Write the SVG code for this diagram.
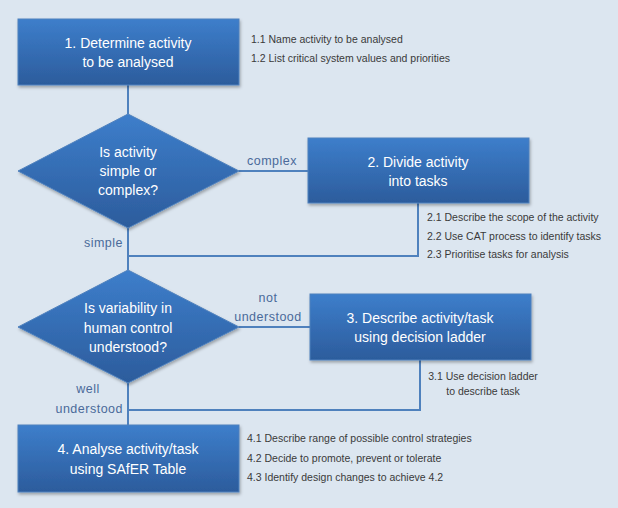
<svg xmlns="http://www.w3.org/2000/svg" width="618" height="508" viewBox="0 0 618 508">
<defs>
<linearGradient id="g" x1="0" y1="0" x2="0" y2="1">
<stop offset="0" stop-color="#3d7ecb"/>
<stop offset="1" stop-color="#2c5c9c"/>
</linearGradient>
<filter id="sh" x="-10%" y="-10%" width="130%" height="140%">
<feDropShadow dx="1" dy="2" stdDeviation="1.5" flood-color="#000" flood-opacity="0.3"/>
</filter>
</defs>
<style>
.shape{fill:url(#g);stroke:#4f81bd;stroke-width:1;filter:url(#sh)}
.t{font-family:"Liberation Sans",Arial,sans-serif;font-size:14px;fill:#fff;text-anchor:middle}
.d{font-family:"Liberation Sans",Arial,sans-serif;font-size:10.5px;fill:#3a3a3a}
.l{font-family:"Liberation Sans",Arial,sans-serif;font-size:12.5px;fill:#4a6a9a;letter-spacing:0.5px}
.c{fill:none;stroke:#4f81bd;stroke-width:2}
</style>
<rect width="618" height="508" fill="#dce6f0"/>
<g id="connectors">
<path class="c" d="M128 85V114"/>
<path class="c" d="M239 171H308"/>
<path class="c" d="M418 203V256H128"/>
<path class="c" d="M128 228V270"/>
<path class="c" d="M239 327H310"/>
<path class="c" d="M420 360V410H128"/>
<path class="c" d="M128 383V425"/>
<text class="l" x="272" y="165" text-anchor="middle">complex</text>
<text class="l" x="123" y="247" text-anchor="end">simple</text>
<text class="l" x="268" y="302" text-anchor="middle">not</text>
<text class="l" x="268" y="321" text-anchor="middle">understood</text>
<text class="l" x="88" y="393" text-anchor="middle">well</text>
<text class="l" x="123" y="413" text-anchor="end">understood</text>
</g>
<g id="n1">
<rect class="shape" x="18" y="19" width="221" height="66"/>
<text class="t" x="128" y="48">1. Determine activity</text>
<text class="t" x="128" y="67">to be analysed</text>
<text class="d" x="251" y="43">1.1 Name activity to be analysed</text>
<text class="d" x="251" y="62">1.2 List critical system values and priorities</text>
</g>
<g id="d1">
<polygon class="shape" points="128,114 239,171 128,228 18,171"/>
<text class="t" x="128" y="157">Is activity</text>
<text class="t" x="128" y="176">simple or</text>
<text class="t" x="128" y="195">complex?</text>
</g>
<g id="n2">
<rect class="shape" x="308" y="138" width="221" height="65"/>
<text class="t" x="418" y="167">2. Divide activity</text>
<text class="t" x="418" y="186">into tasks</text>
<text class="d" x="427" y="221">2.1 Describe the scope of the activity</text>
<text class="d" x="427" y="240">2.2 Use CAT process to identify tasks</text>
<text class="d" x="427" y="258">2.3 Prioritise tasks for analysis</text>
</g>
<g id="d2">
<polygon class="shape" points="128,270 239,327 128,383 18,327"/>
<text class="t" x="128" y="313">Is variability in</text>
<text class="t" x="128" y="333">human control</text>
<text class="t" x="128" y="352">understood?</text>
</g>
<g id="n3">
<rect class="shape" x="310" y="294" width="221" height="66"/>
<text class="t" x="420" y="323">3. Describe activity/task</text>
<text class="t" x="420" y="342">using decision ladder</text>
<text class="d" x="483" y="380" text-anchor="middle">3.1 Use decision ladder</text>
<text class="d" x="483" y="395" text-anchor="middle">to describe task</text>
</g>
<g id="n4">
<rect class="shape" x="18" y="425" width="221" height="67"/>
<text class="t" x="128" y="454">4. Analyse activity/task</text>
<text class="t" x="128" y="474">using SAfER Table</text>
<text class="d" x="247" y="442">4.1 Describe range of possible control strategies</text>
<text class="d" x="247" y="462">4.2 Decide to promote, prevent or tolerate</text>
<text class="d" x="247" y="481">4.3 Identify design changes to achieve 4.2</text>
</g>
</svg>
